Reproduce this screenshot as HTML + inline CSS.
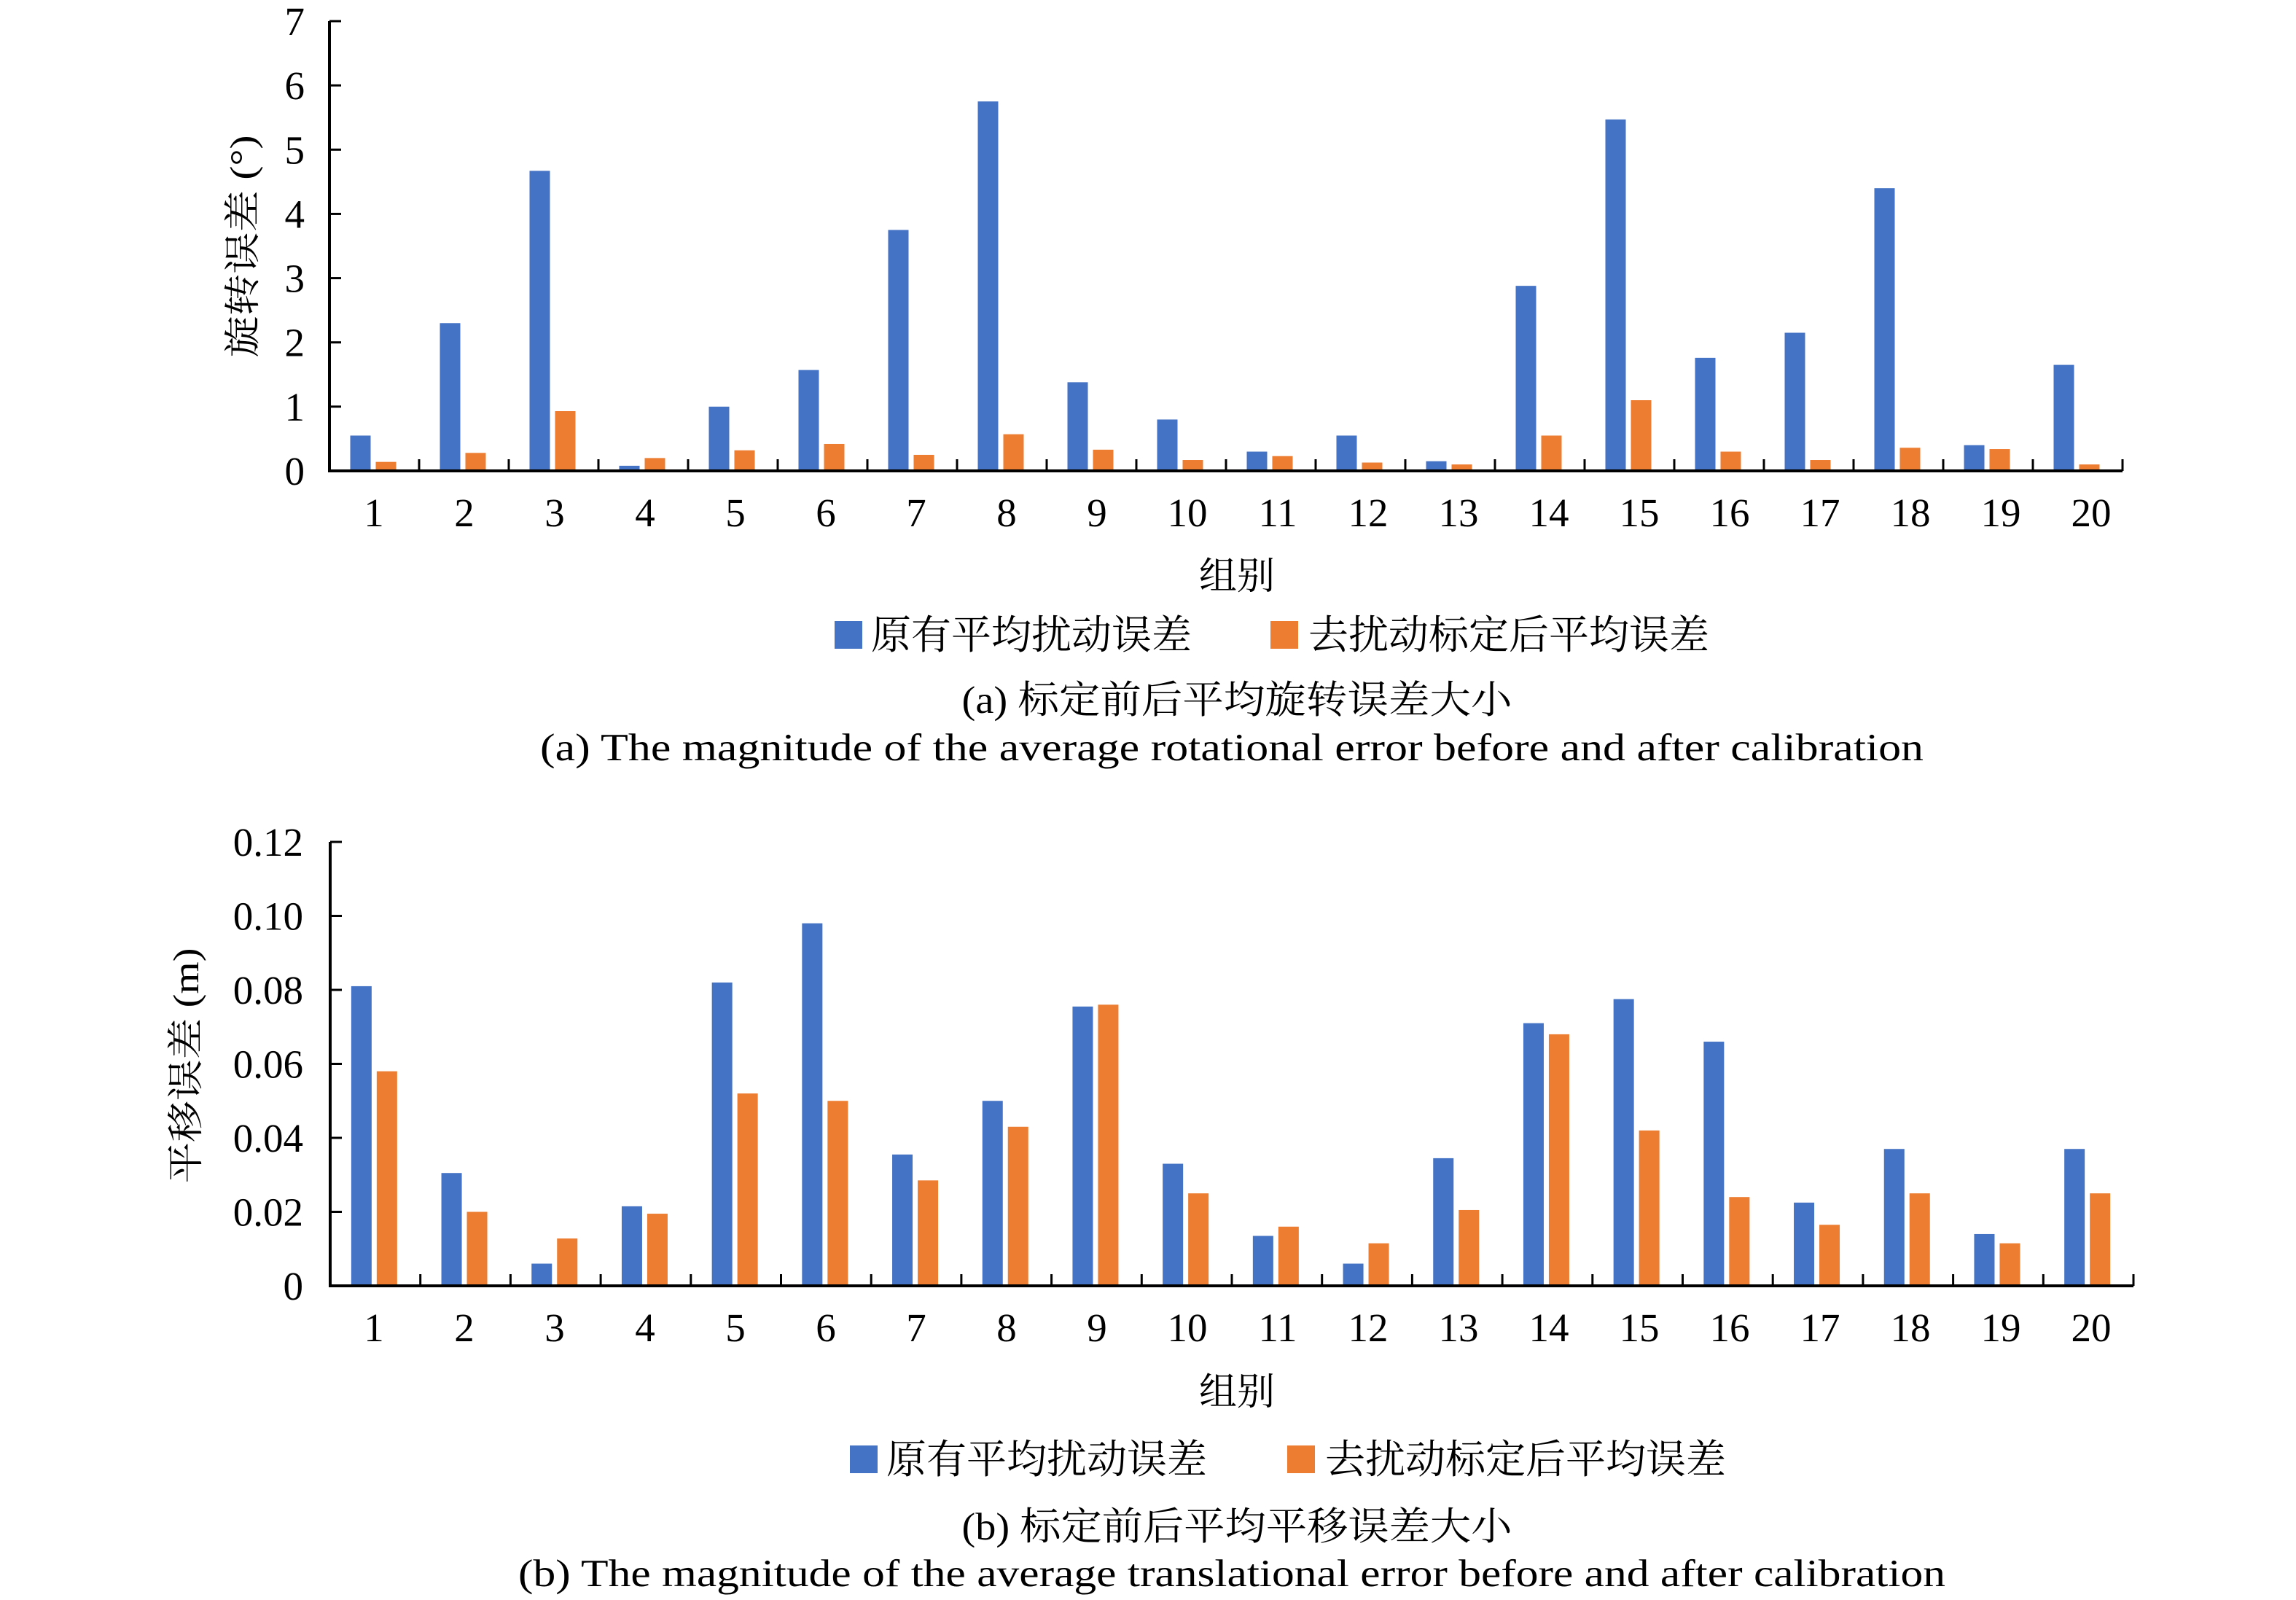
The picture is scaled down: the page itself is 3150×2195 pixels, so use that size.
<!DOCTYPE html>
<html><head><meta charset="utf-8"><style>
html,body{margin:0;padding:0;background:#fff;}
svg{display:block;}
text{font-family:"Liberation Serif","Noto Serif CJK SC",serif;fill:#000;}
</style></head><body>
<svg id="fig" width="3150" height="2195" viewBox="0 0 3150 2195" xmlns="http://www.w3.org/2000/svg">
<g id="chartA"></g>
<g id="chartB"></g>
</svg>
<script>
const categories = ["1","2","3","4","5","6","7","8","9","10","11","12","13","14","15","16","17","18","19","20"];
const rotBefore = [0.55,2.3,4.67,0.08,1.0,1.57,3.75,5.75,1.38,0.8,0.3,0.55,0.15,2.88,5.47,1.76,2.15,4.4,0.4,1.65];
const rotAfter = [0.14,0.28,0.93,0.2,0.32,0.42,0.25,0.57,0.33,0.17,0.23,0.13,0.1,0.55,1.1,0.3,0.17,0.36,0.34,0.1];
const rotTicks = [0,1,2,3,4,5,6,7];
const rotTickLabels = ["0","1","2","3","4","5","6","7"];
const transBefore = [0.081,0.0305,0.006,0.0215,0.082,0.098,0.0355,0.050,0.0755,0.033,0.0135,0.006,0.0345,0.071,0.0775,0.066,0.0225,0.037,0.014,0.037];
const transAfter = [0.058,0.020,0.0128,0.0195,0.052,0.050,0.0285,0.043,0.076,0.025,0.016,0.0115,0.0205,0.068,0.042,0.024,0.0165,0.025,0.0115,0.025];
const transTicks = [0,0.02,0.04,0.06,0.08,0.10,0.12];
const transTickLabels = ["0","0.02","0.04","0.06","0.08","0.10","0.12"];

const NS="http://www.w3.org/2000/svg";
function mk(parent,tag,attrs,txt){const e=document.createElementNS(NS,tag);for(const k in attrs)e.setAttribute(k,attrs[k]);if(txt!==undefined)e.textContent=txt;parent.appendChild(e);return e;}

function drawChart(g,cfg){
  const x0=cfg.x0, yTop=cfg.yTop, yBase=cfg.yBase, step=cfg.step, n=categories.length;
  const ymax=cfg.ticks[cfg.ticks.length-1];
  const yScale=v=>yBase-(v/ymax)*(yBase-yTop);
  const xCenter=i=>x0+(i+0.5)*step;
  categories.forEach((c,i)=>{
    const cx=xCenter(i);
    const yb=yScale(cfg.before[i]);
    const b=mk(g,'rect',{x:cx-33,y:yb,width:28,height:yBase-yb,fill:'#4472C4'});
    
    
    const ya=yScale(cfg.after[i]);
    const o=mk(g,'rect',{x:cx+2,y:ya,width:28,height:yBase-ya,fill:'#ED7D31'});
    
    
    const t=mk(g,'text',{x:513+i*124,y:yBase+76,'font-size':55,'text-anchor':'middle'},c);
    
    
  });
  const ax=mk(g,'path',{d:`M${x0} ${yTop} V${yBase} H${x0+n*step}`,stroke:'#000','stroke-width':4,fill:'none'});
  
  
  for(let i=1;i<=n;i++){
    const tk=mk(g,'line',{x1:x0+i*step,x2:x0+i*step,y1:yBase,y2:yBase-16,stroke:'#000','stroke-width':3});
    
    
  }
  cfg.ticks.forEach((v,i)=>{
    const y=yScale(v);
    const tk=mk(g,'line',{x1:x0,x2:x0+16,y1:y,y2:y,stroke:'#000','stroke-width':3});
    
    
    const t=mk(g,'text',{x:cfg.labelRight,y:y+19,'font-size':55,'text-anchor':'end'},cfg.tickLabels[i]);
    
    
  });
  const yt=mk(g,'text',{x:0,y:0,'font-size':50,'text-anchor':'middle',textLength:cfg.ytLen,lengthAdjust:'spacingAndGlyphs',transform:`translate(${cfg.ytX},${cfg.ytY}) rotate(-90)`},cfg.yTitle);
  
  
  const xt=mk(g,'text',{x:1697,y:cfg.xtY,'font-size':52,'text-anchor':'middle'},'组别');
  
  
  const l1=mk(g,'rect',{x:cfg.legX1,y:cfg.legY-38,width:38,height:38,fill:'#4472C4'});
  
  
  const lt1=mk(g,'text',{x:cfg.legX1+50,y:cfg.legY,'font-size':55,textLength:440,lengthAdjust:'spacingAndGlyphs'},'原有平均扰动误差');
  
  
  const l2=mk(g,'rect',{x:cfg.legX2,y:cfg.legY-38,width:38,height:38,fill:'#ED7D31'});
  
  
  const lt2=mk(g,'text',{x:cfg.legX2+52,y:cfg.legY,'font-size':55,textLength:550,lengthAdjust:'spacingAndGlyphs'},'去扰动标定后平均误差');
  
  
  const c1=mk(g,'text',{x:1697,y:cfg.capY1,'font-size':53,'text-anchor':'middle',textLength:755,lengthAdjust:'spacingAndGlyphs'},cfg.cap1);
  
  
  const c2=mk(g,'text',{x:1690,y:cfg.capY2,'font-size':53,'text-anchor':'middle',textLength:cfg.cap2Len,lengthAdjust:'spacingAndGlyphs'},cfg.cap2);
  
  
}

drawChart(document.getElementById('chartA'),{x0:452,step:123,yTop:29,yBase:646,ticks:rotTicks,tickLabels:rotTickLabels,before:rotBefore,after:rotAfter,
  labelRight:418,yTitle:'旋转误差 (°)',ytLen:305,ytX:350,ytY:338,xtY:808,legX1:1145,legX2:1743,legY:890,capY1:978,capY2:1043,cap2Len:1898,
  cap1:'(a) 标定前后平均旋转误差大小',cap2:'(a) The magnitude of the average rotational error before and after calibration'});
drawChart(document.getElementById('chartB'),{x0:453,step:123.7,yTop:1155,yBase:1764,ticks:transTicks,tickLabels:transTickLabels,before:transBefore,after:transAfter,
  labelRight:416,yTitle:'平移误差 (m)',ytLen:323,ytX:272,ytY:1462,xtY:1927,legX1:1166,legX2:1766,legY:2021,capY1:2112,capY2:2176,cap2Len:1958,
  cap1:'(b) 标定前后平均平移误差大小',cap2:'(b) The magnitude of the average translational error before and after calibration'});
</script>
</body></html>
